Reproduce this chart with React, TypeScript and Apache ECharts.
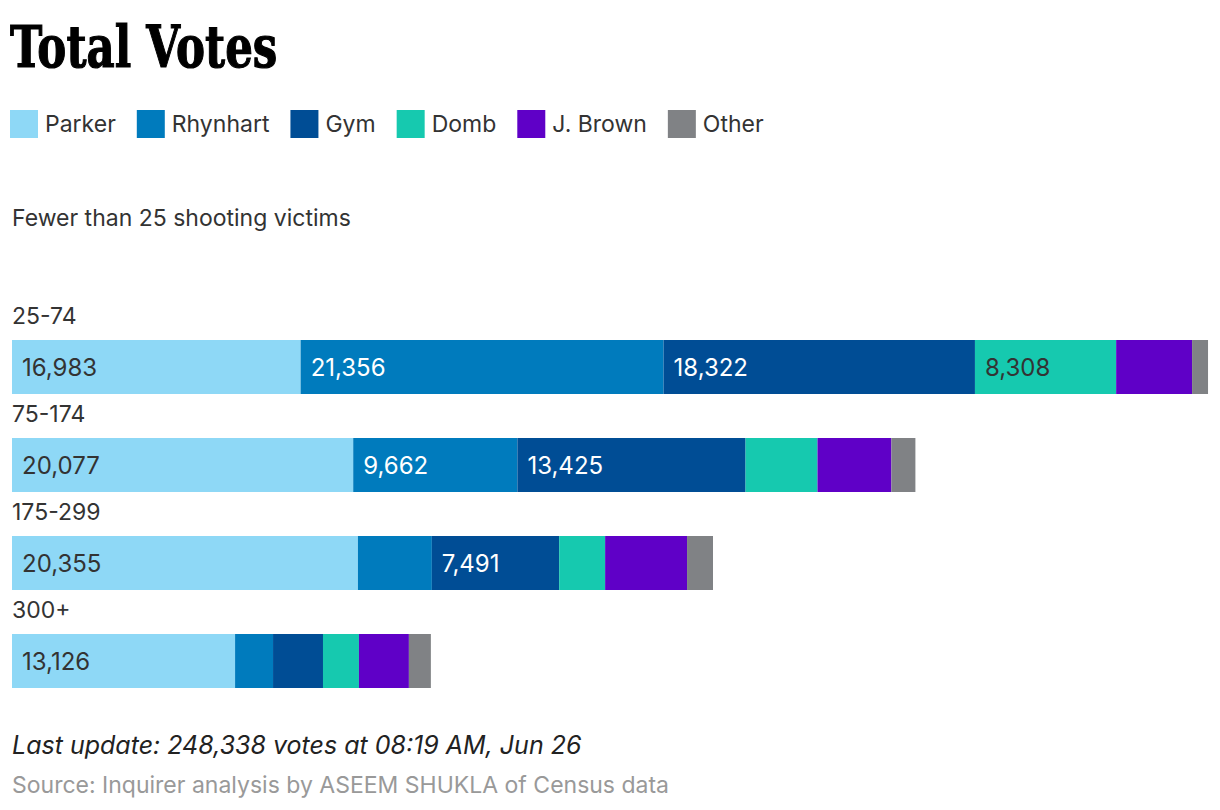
import React, { useEffect, useRef } from "react";
import * as echarts from "echarts";

const categories = ["Fewer than 25 shooting victims", "25-74", "75-174", "175-299", "300+"];
const seriesNames = ["Parker", "Rhynhart", "Gym", "Domb", "J. Brown", "Other"];
const parker = [null, 16983, 20077, 20355, 13126];
const rhynhart = [null, 21356, 9662, 4350, 2234];
const gym = [null, 18322, 13425, 7491, 2939];
const domb = [null, 8308, 4232, 2704, 2116];
const brown = [null, 4467, 4350, 4820, 2939];
const other = [null, 940, 1411, 1528, 1293];
const colors = ["#8ED8F6", "#007BBD", "#004D95", "#16C9AF", "#5F00C7", "#808285"];
const labelColors = ["#333333", "#ffffff", "#ffffff", "#333333", "#ffffff", "#ffffff"];
const titleText = "Total Votes";
const updateText = "Last update: 248,338 votes at 08:19 AM, Jun 26";
const sourceText = "Source: Inquirer analysis by ASEEM SHUKLA of Census data";

const FONT = "Inter, 'Noto Sans', sans-serif";

export default function App() {
  const ref = useRef<HTMLDivElement>(null);
  useEffect(() => {
    if (!ref.current) return;
    const chart = echarts.init(ref.current, null, { renderer: "svg" });
    const allData = [parker, rhynhart, gym, domb, brown, other];
    const series = seriesNames.map((name, i) => ({
      name,
      type: "bar",
      stack: "total",
      barWidth: 54,
      data: allData[i],
      itemStyle: { color: colors[i] },
      label: {
        show: true,
        position: "insideLeft",
        distance: 10,
        color: labelColors[i],
        fontFamily: FONT,
        fontSize: 24,
        formatter: (p: any) =>
          p.value != null && p.value >= 5000 ? Number(p.value).toLocaleString("en-US") : "",
      },
    }));
    chart.setOption({
      animation: false,
      backgroundColor: "#ffffff",
      legend: {
        left: 10,
        top: 110,
        padding: 0,
        itemWidth: 28,
        itemHeight: 28,
        itemGap: 21,
        icon: "rect",
        data: seriesNames,
        textStyle: { fontFamily: FONT, fontSize: 23, color: "#333333", padding: [0, 0, 0, 2] },
      },
      grid: { left: 12, right: 0, top: 220, height: 490, containLabel: false },
      xAxis: { type: "value", min: 0, max: 71080, show: false },
      yAxis: {
        type: "category",
        data: categories,
        inverse: true,
        axisLine: { show: false },
        axisTick: { show: false },
        axisLabel: {
          inside: true,
          margin: 0,
          align: "left",
          verticalAlign: "middle",
          formatter: (v: string) => `{a|${v}}\n{b| }`,
          rich: {
            a: { fontFamily: FONT, fontSize: 23, color: "#333333", lineHeight: 28 },
            b: { fontSize: 10, lineHeight: 102 },
          },
        },
      },
      graphic: [
        {
          type: "text",
          x: 10,
          y: 18,
          scaleX: 0.75,
          style: {
            text: titleText,
            fontFamily: "'DejaVu Serif', serif",
            fontWeight: "bold",
            fontSize: 58,
            fill: "#000000",
            stroke: "#000000",
            lineWidth: 1.2,
            verticalAlign: "top",
          },
        },
        {
          type: "text",
          x: 12,
          y: 745,
          style: {
            text: updateText,
            fontFamily: FONT,
            fontStyle: "italic",
            fontSize: 25,
            fill: "#222222",
            verticalAlign: "middle",
          },
        },
        {
          type: "text",
          x: 12,
          y: 785,
          style: {
            text: sourceText,
            fontFamily: FONT,
            fontSize: 23,
            fill: "#999999",
            verticalAlign: "middle",
          },
        },
      ],
      series,
    });
    return () => chart.dispose();
  }, []);
  return (
    <div
      ref={ref}
      style={{ position: "absolute", left: 0, top: 0, width: 1220, height: 810, background: "#fff" }}
    />
  );
}
